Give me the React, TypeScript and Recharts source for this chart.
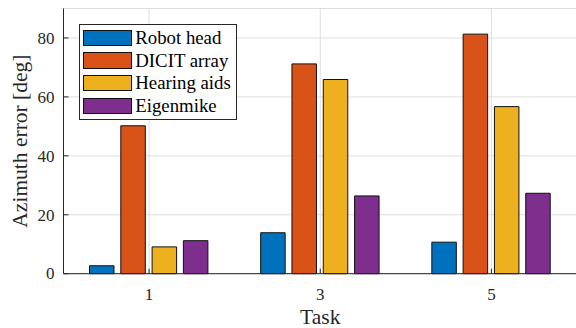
import React from 'react';
import { BarChart, Bar, XAxis, YAxis, CartesianGrid, Legend, Label } from 'recharts';

const tasks = ['1', '3', '5'];
const robotHead = [2.7, 13.9, 10.7];
const dicitArray = [50.2, 71.2, 81.3];
const hearingAids = [9.1, 65.9, 56.7];
const eigenmike = [11.2, 26.4, 27.3];
const yTicks = [0, 20, 40, 60, 80];
const seriesNames = ['Robot head', 'DICIT array', 'Hearing aids', 'Eigenmike'];
const seriesKeys = ['robot', 'dicit', 'hearing', 'eigen'];
const seriesColors = ['#0072BD', '#D95319', '#EDB120', '#7E2F8E'];

const data = tasks.map((t, i) => ({
  task: t,
  robot: robotHead[i],
  dicit: dicitArray[i],
  hearing: hearingAids[i],
  eigen: eigenmike[i],
}));

const FONT = "'Liberation Serif', 'Times New Roman', serif";
const AXIS = '#262626';
const TICK_LEN = 5;
const tickTextStyle = { fontFamily: FONT, fontSize: 17, fill: AXIS };
const labelTextStyle = { fontFamily: FONT, fontSize: 21.5, fill: AXIS };

const XTickBottom = (props: any) => {
  const { x, y, payload } = props;
  return (
    <g>
      <line x1={x} x2={x} y1={y} y2={y - TICK_LEN} stroke={AXIS} strokeWidth={1} />
      <text x={x} y={y + 26.3} textAnchor="middle" style={tickTextStyle}>
        {payload.value}
      </text>
    </g>
  );
};

const XTickTop = (props: any) => {
  const { x, y } = props;
  return <line x1={x} x2={x} y1={y} y2={y + TICK_LEN} stroke={AXIS} strokeWidth={1} />;
};

const YTickLeft = (props: any) => {
  const { x, y, payload } = props;
  return (
    <g>
      <line x1={x} x2={x + TICK_LEN} y1={y} y2={y} stroke={AXIS} strokeWidth={1} />
      <text x={x - 9} y={y} dy="0.34em" textAnchor="end" style={tickTextStyle}>
        {payload.value}
      </text>
    </g>
  );
};

const YTickRight = (props: any) => {
  const { x, y } = props;
  return <line x1={x} x2={x - TICK_LEN} y1={y} y2={y} stroke={AXIS} strokeWidth={1} />;
};

const renderYLabel = (props: any) => {
  const vb = props.viewBox;
  const cx = vb.x + 27;
  const cy = vb.y + vb.height / 2;
  return (
    <text x={cx} y={cy} textAnchor="middle" transform={`rotate(-90 ${cx} ${cy})`} style={labelTextStyle}>
      Azimuth error [deg]
    </text>
  );
};

const renderXLabel = (props: any) => {
  const vb = props.viewBox;
  return (
    <text x={vb.x + vb.width / 2} y={vb.y + 50.3} textAnchor="middle" style={labelTextStyle}>
      Task
    </text>
  );
};

const renderLegend = () => (
  <div
    style={{
      width: 158,
      height: 96,
      boxSizing: 'border-box',
      border: `1px solid ${AXIS}`,
      background: '#fff',
      paddingTop: 1.5,
      paddingLeft: 3,
      fontFamily: FONT,
      fontSize: 18.8,
      color: '#000',
    }}
  >
    {seriesNames.map((n, i) => (
      <div key={n} style={{ display: 'flex', alignItems: 'center', height: 22.7, whiteSpace: 'nowrap' }}>
        <div
          style={{
            width: 48.4,
            height: 16.3,
            boxSizing: 'border-box',
            background: seriesColors[i],
            border: '1px solid #111',
            marginRight: 3.6,
            flex: '0 0 auto',
          }}
        />
        <span style={{ lineHeight: '22px' }}>{n}</span>
      </div>
    ))}
  </div>
);

export default function App() {
  return (
    <div style={{ position: 'absolute', left: 0, top: 0, width: 576, height: 328, background: '#fff' }}>
      <BarChart
        width={576}
        height={328}
        data={data}
        margin={{ top: 8.5, right: -1, bottom: 0, left: 0 }}
        barSize={24.5}
        barGap={6.8}
      >
        <CartesianGrid stroke="#dedede" strokeWidth={1} xAxisId="b" yAxisId="l" />
        <XAxis
          xAxisId="b"
          dataKey="task"
          height={54.3}
          interval={0}
          axisLine={{ stroke: AXIS, strokeWidth: 1 }}
          tickLine={false}
          tickSize={0}
          tickMargin={0}
          tick={<XTickBottom />}
        >
          <Label content={renderXLabel} />
        </XAxis>
        <XAxis
          xAxisId="t"
          dataKey="task"
          orientation="top"
          height={0}
          interval={0}
          axisLine={{ stroke: AXIS, strokeWidth: 1 }}
          tickLine={false}
          tickSize={0}
          tickMargin={0}
          tick={<XTickTop />}
        />
        <YAxis
          yAxisId="l"
          width={63.5}
          domain={[0, 90]}
          ticks={yTicks}
          interval={0}
          axisLine={{ stroke: AXIS, strokeWidth: 1 }}
          tickLine={false}
          tickSize={0}
          tickMargin={0}
          tick={<YTickLeft />}
        >
          <Label content={renderYLabel} />
        </YAxis>
        <YAxis
          yAxisId="r"
          orientation="right"
          width={0}
          domain={[0, 90]}
          ticks={yTicks}
          interval={0}
          axisLine={{ stroke: AXIS, strokeWidth: 1 }}
          tickLine={false}
          tickSize={0}
          tickMargin={0}
          tick={<YTickRight />}
        />
        <Legend
          layout="vertical"
          align="center"
          verticalAlign="middle"
          content={renderLegend}
          wrapperStyle={{ position: 'absolute', left: 79.3, top: 24, width: 158, height: 96 }}
        />
        {seriesKeys.map((k, i) => (
          <Bar
            key={k}
            dataKey={k}
            name={seriesNames[i]}
            xAxisId="b"
            yAxisId="l"
            fill={seriesColors[i]}
            stroke="#111"
            strokeWidth={1}
            isAnimationActive={false}
          />
        ))}
      </BarChart>
    </div>
  );
}
